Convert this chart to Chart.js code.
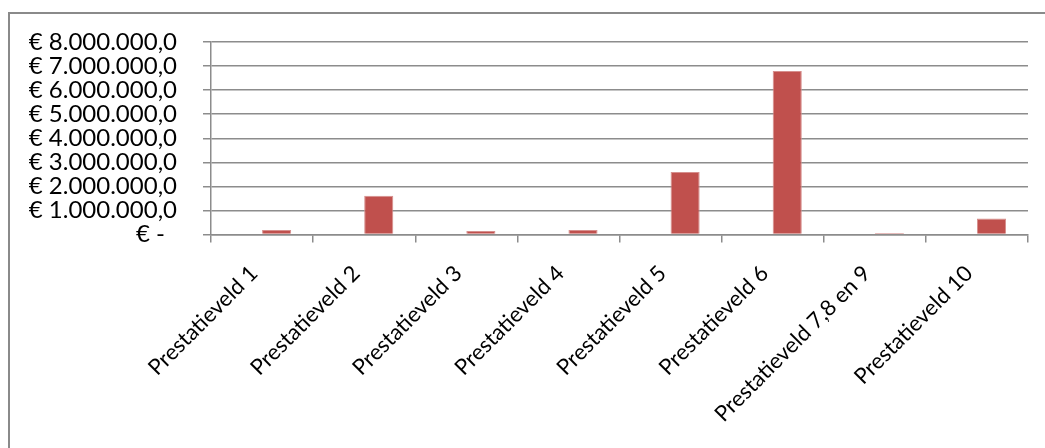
<!DOCTYPE html>
<html>
<head>
<meta charset="utf-8">
<script src="https://cdn.jsdelivr.net/npm/chart.js@4"></script>
<style>
  html, body { margin: 0; padding: 0; background: #fff; overflow: hidden; }
  #frame { position: absolute; left: 8px; top: 12px; width: 1100px; height: 500px;
           border-left: 2px solid #8a8a8a; border-top: 2px solid #8a8a8a; }
  #wrap { position: absolute; left: 0; top: 0; width: 1045px; height: 448px; }
</style>
</head>
<body>
<div id="frame"></div>
<div id="wrap"><canvas id="chart"></canvas></div>
<script>
const categories = [
  'Prestatieveld 1',
  'Prestatieveld 2',
  'Prestatieveld 3',
  'Prestatieveld 4',
  'Prestatieveld 5',
  'Prestatieveld 6',
  'Prestatieveld 7,8 en 9',
  'Prestatieveld 10'
];
// first series is empty in the original, it only takes up the left half of each group
const emptySeries = [null, null, null, null, null, null, null, null];
const amounts = [190000, 1610000, 150000, 190000, 2600000, 6800000, 60000, 670000];
const yMax = 8000000;
const yStep = 1000000;

function euro(v) {
  if (v === 0) return '€ -\u2002';
  const whole = Math.round(v).toString().replace(/\B(?=(\d{3})+(?!\d))/g, '.');
  return '€ ' + whole + ',0';
}

const gridGrey = '#8c8c8c';
const ctx = document.querySelector('#chart').getContext('2d');

new Chart(ctx, {
  type: 'bar',
  data: {
    labels: categories,
    datasets: [{
      label: 'leeg',
      data: emptySeries,
      backgroundColor: '#4F81BD'
    }, {
      label: 'bedrag',
      data: amounts,
      backgroundColor: '#C0504D',
      borderColor: '#D68F8D',
      borderWidth: 1
    }]
  },
  options: {
    responsive: true,
    maintainAspectRatio: false,
    animation: false,
    categoryPercentage: 0.57,
    barPercentage: 1.0,
    layout: { padding: { top: 42, right: 17, left: 0, bottom: 0 } },
    plugins: {
      legend: { display: false },
      tooltip: { enabled: false }
    },
    scales: {
      x: {
        grid: {
          drawOnChartArea: false,
          drawTicks: true,
          tickLength: 8,
          color: gridGrey,
          lineWidth: 1.5
        },
        border: { color: gridGrey, width: 1.5 },
        ticks: {
          color: '#000',
          autoSkip: false,
          minRotation: 45,
          maxRotation: 45,
          padding: 18,
          labelOffset: -8,
          font: { family: 'Lato', size: 22 }
        },
        afterFit: function(scale) { scale.height = 213.5; }
      },
      y: {
        min: 0,
        max: yMax,
        grid: {
          color: gridGrey,
          lineWidth: 1.5,
          tickLength: 8
        },
        border: { color: gridGrey, width: 1.5 },
        ticks: {
          stepSize: yStep,
          autoSkip: false,
          color: '#000',
          padding: 26,
          font: { family: 'Lato', size: 24, lineHeight: 1 },
          callback: function(value) { return euro(value); }
        },
        afterFit: function(scale) { scale.width = 211; }
      }
    }
  }
});
</script>
</body>
</html>
